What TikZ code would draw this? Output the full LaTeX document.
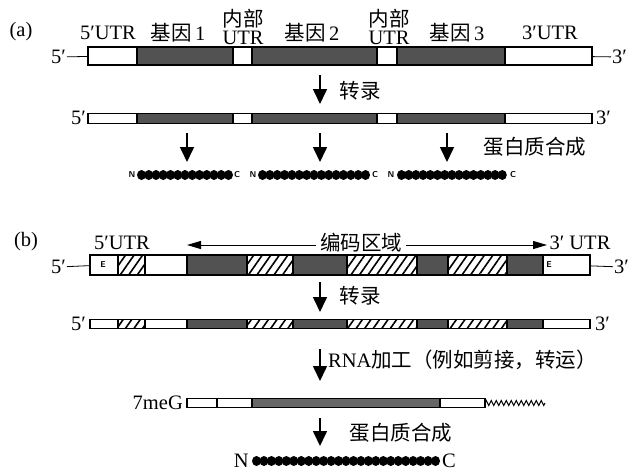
\documentclass[tikz,border=0pt]{standalone}
\usepackage{fontspec}
\setmainfont{Liberation Serif}
\newfontfamily\cjk{Noto Sans CJK SC}
\usetikzlibrary{positioning,arrows.meta,patterns.meta,decorations.pathmorphing}

\begin{document}
\begin{tikzpicture}[
  x=1pt, y=-1pt,
  font=\fontsize{20.5}{18}\selectfont,
  seg/.style={draw, line width=1.3pt, inner sep=0pt, outer sep=0pt},
  utr/.style={seg, fill=white},
  gene/.style={seg, fill=black!68},
  hatched/.style={seg, pattern={Lines[angle=55,distance=7pt,line width=1.6pt]}},
  tag/.style={inner sep=1pt},
  small/.style={inner sep=0.5pt, font=\fontsize{8.5}{8}\sffamily\bfseries},
  down/.style={-{Triangle[width=14pt,length=15pt]}, line width=1.6pt},
  harr/.style={-{Triangle[width=8pt,length=14pt]}, line width=1pt}
]
\useasboundingbox (0,0) rectangle (633,471);

% (a) polycistronic
\node (la) at (21,32) {(a)};
\node (lutr5) at (108,33) {5′UTR};
\node (lg1) at (178,33) {{\cjk 基因}\,1};
\node[align=center] (lint1) at (243,27) {{\cjk 内部}\\UTR};
\node (lg2) at (312,33) {{\cjk 基因}\,2};
\node[align=center] (lint2) at (389,27) {{\cjk 内部}\\UTR};
\node (lg3) at (457,33) {{\cjk 基因}\,3};
\node (lutr3) at (550,33) {3′UTR};

\begin{scope}[every node/.append style={minimum height=18pt}]
\node[utr, minimum width=49pt, anchor=west] (a1) at (88,56) {};
\node[gene, minimum width=96pt, right=0pt of a1] (a2) {};
\node[utr, minimum width=19pt, right=0pt of a2] (a3) {};
\node[gene, minimum width=125pt, right=0pt of a3] (a4) {};
\node[utr, minimum width=20pt, right=0pt of a4] (a5) {};
\node[gene, minimum width=108pt, right=0pt of a5] (a6) {};
\node[utr, minimum width=87pt, right=0pt of a6] (a7) {};
\end{scope}
\node[tag, anchor=east] (a5p) at (67,57) {5′};
\node[tag, anchor=west] (a3p) at (611,57) {3′};
\draw[thick] (a5p) -- (a1);
\draw[thick] (a7) -- (a3p);

\coordinate (ta1) at (320,75);
\coordinate (ta2) at (320,104);
\draw[down] (ta1) -- (ta2);
\node[anchor=west] (ltr1) at (336,91) {\cjk 转录};

\begin{scope}[every node/.append style={minimum height=10pt}]
\node[utr, minimum width=49pt, anchor=west] (m1) at (88,118.5) {};
\node[gene, minimum width=96pt, right=0pt of m1] (m2) {};
\node[utr, minimum width=19pt, right=0pt of m2] (m3) {};
\node[gene, minimum width=125pt, right=0pt of m3] (m4) {};
\node[utr, minimum width=20pt, right=0pt of m4] (m5) {};
\node[gene, minimum width=108pt, right=0pt of m5] (m6) {};
\node[utr, minimum width=87pt, right=0pt of m6] (m7) {};
\end{scope}
\node[tag, anchor=east] (m5p) at (87,118) {5′};
\node[tag, anchor=west] (m3p) at (595,118) {3′};

\foreach \x [count=\i] in {187,320,447} {
  \coordinate (ps\i) at (\x,133);
  \coordinate (pe\i) at (\x,162);
  \draw[down] (ps\i) -- (pe\i);
}
\node (lps1) at (535,147) {\cjk 蛋白质合成};

% three peptides
\node[small] (n1) at (132,175) {N};
\foreach \i in {0,...,12} \fill (141.5+\i*7.25,175) ellipse [x radius=4.5pt, y radius=5pt];
\node[small] (c1) at (237,175) {C};
\node[small] (n2) at (253,175) {N};
\foreach \i in {0,...,14} \fill (262.5+\i*7.36,175) ellipse [x radius=4.5pt, y radius=5pt];
\node[small] (c2) at (375,175) {C};
\node[small] (n3) at (391,175) {N};
\foreach \i in {0,...,14} \fill (401.5+\i*7.2,175) ellipse [x radius=4.5pt, y radius=5pt];
\node[small] (c3) at (513,175) {C};

% (b) monocistronic
\node (lb) at (26,242) {(b)};
\node (lutr5b) at (122,243) {5′UTR};
\node[inner sep=4pt] (lcod) at (361,243) {\cjk 编码区域};
\coordinate (cl) at (187,245);
\coordinate (cr) at (547,245);
\draw[harr] (lcod.west |- cl) -- (cl);
\draw[harr] (lcod.east |- cr) -- (cr);
\node (lutr3b) at (580,243) {3′ UTR};

\begin{scope}[every node/.append style={minimum height=20pt}]
\node[utr, minimum width=28pt, anchor=west] (b1) at (90,265) {};
\node[hatched, minimum width=27pt, right=0pt of b1] (b2) {};
\node[utr, minimum width=42pt, right=0pt of b2] (b3) {};
\node[gene, minimum width=60pt, right=0pt of b3] (b4) {};
\node[hatched, minimum width=46pt, right=0pt of b4] (b5) {};
\node[gene, minimum width=54pt, right=0pt of b5] (b6) {};
\node[hatched, minimum width=70pt, right=0pt of b6] (b7) {};
\node[gene, minimum width=31pt, right=0pt of b7] (b8) {};
\node[hatched, minimum width=59pt, right=0pt of b8] (b9) {};
\node[gene, minimum width=36pt, right=0pt of b9] (b10) {};
\node[utr, minimum width=47pt, right=0pt of b10] (b11) {};
\end{scope}
\node[small] (e1) at (103,265) {E};
\node[small] (e2) at (549,265) {E};
\node[tag, anchor=east] (b5p) at (67,267) {5′};
\node[tag, anchor=west] (b3p) at (613,267) {3′};
\draw[thick] (b5p) -- (b1);
\draw[thick] (b11) -- (b3p);

\coordinate (tb1) at (320,282);
\coordinate (tb2) at (320,312);
\draw[down] (tb1) -- (tb2);
\node[anchor=west] (ltr2) at (336,296) {\cjk 转录};

\begin{scope}[every node/.append style={minimum height=9pt}]
\node[utr, minimum width=28pt, anchor=west] (r1) at (90,324) {};
\node[hatched, minimum width=27pt, right=0pt of r1] (r2) {};
\node[utr, minimum width=42pt, right=0pt of r2] (r3) {};
\node[gene, minimum width=60pt, right=0pt of r3] (r4) {};
\node[hatched, minimum width=46pt, right=0pt of r4] (r5) {};
\node[gene, minimum width=54pt, right=0pt of r5] (r6) {};
\node[hatched, minimum width=70pt, right=0pt of r6] (r7) {};
\node[gene, minimum width=31pt, right=0pt of r7] (r8) {};
\node[hatched, minimum width=59pt, right=0pt of r8] (r9) {};
\node[gene, minimum width=36pt, right=0pt of r9] (r10) {};
\node[utr, minimum width=47pt, right=0pt of r10] (r11) {};
\end{scope}
\node[tag, anchor=east] (r5p) at (87,324) {5′};
\node[tag, anchor=west] (r3p) at (594,324) {3′};

\coordinate (pr1) at (320,349);
\coordinate (pr2) at (320,381);
\draw[down] (pr1) -- (pr2);
\node[anchor=west, inner sep=1pt] (lproc) at (327,360) {RNA{\cjk 加工（例如剪接，转运）}};

\begin{scope}[every node/.append style={minimum height=9pt}]
\node[utr, minimum width=30pt, anchor=west] (q1) at (187,403) {};
\node[utr, minimum width=35pt, right=0pt of q1] (q2) {};
\node[gene, fill=black!60, minimum width=188pt, right=0pt of q2] (q3) {};
\node[utr, minimum width=45pt, right=0pt of q3] (q4) {};
\end{scope}
\node[tag, anchor=east] (cap) at (184,403) {7meG};
\coordinate (tail) at (545,403);
\draw[line width=1pt, decorate, decoration={zigzag, amplitude=2.5pt, segment length=5pt}] (q4) -- (tail);

\coordinate (pb1) at (320,418);
\coordinate (pb2) at (320,446);
\draw[down] (pb1) -- (pb2);
\node (lps2) at (401,433) {\cjk 蛋白质合成};

\node[tag, anchor=east] (nb) at (250,461) {N};
\foreach \i in {0,...,24} \fill (256.5+\i*7.46,461) ellipse [x radius=4.5pt, y radius=5pt];
\node[tag, anchor=west] (cb) at (441,461) {C};
\end{tikzpicture}
\end{document}
